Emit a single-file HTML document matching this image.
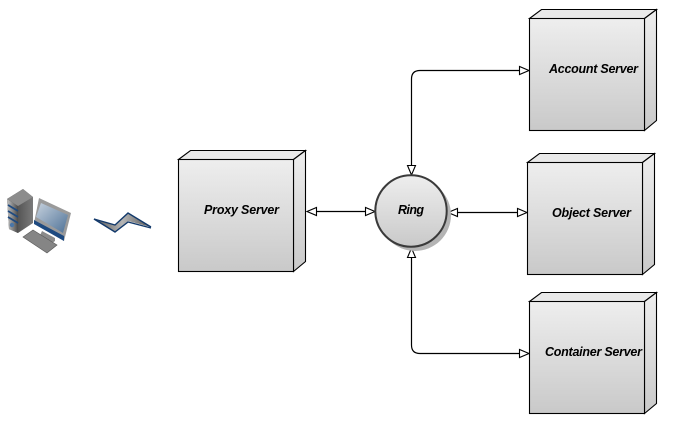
<!DOCTYPE html>
<html><head><meta charset="utf-8">
<style>
html,body{margin:0;padding:0;background:#fff;width:677px;height:434px;overflow:hidden}
svg{display:block}
text{font-family:"Liberation Sans",sans-serif;font-weight:bold;font-style:italic;font-size:12.5px;fill:#000}
</style></head>
<body>
<svg width="677" height="434" viewBox="0 0 677 434" xmlns="http://www.w3.org/2000/svg">
<defs>
<linearGradient id="g" x1="0" y1="0" x2="0" y2="1"><stop offset="0" stop-color="#eeeeee"/><stop offset="1" stop-color="#c9c9c9"/></linearGradient>
<linearGradient id="t" x1="0" y1="0" x2="1" y2="0"><stop offset="0" stop-color="#c4c4c4"/><stop offset="1" stop-color="#4a4a4a"/></linearGradient>
<linearGradient id="tw" x1="0" y1="0" x2="1" y2="0"><stop offset="0" stop-color="#3a3a3a"/><stop offset="1" stop-color="#7a7a7a"/></linearGradient>
<linearGradient id="sc" x1="0" y1="0" x2="1" y2="1"><stop offset="0" stop-color="#c6d1dd"/><stop offset="1" stop-color="#4f7297"/></linearGradient>
<linearGradient id="z" x1="0" y1="0" x2="1" y2="0"><stop offset="0" stop-color="#555"/><stop offset=".5" stop-color="#b5b5b5"/><stop offset="1" stop-color="#555"/></linearGradient>
</defs>

<!-- client computer -->
<g>
<path d="M7 199L23 189L33 197L33 223L18 233L9 229Z" fill="url(#tw)"/>
<path d="M7 199L18 206L18 233L9 229Z" fill="url(#t)"/>
<path d="M7 199L23 189L33 197L18 206Z" fill="#8c8c8c"/>
<path d="M8 205L18 211M8 211L18 217M8 217L18 223" stroke="#1e4a80" stroke-width="1.8" fill="none"/>
<circle cx="12" cy="225" r="2.2" fill="#4a76a8"/>
<path d="M42 231L55 238L55 241L48 246L38 240Z" fill="#8a8a8a"/>
<path d="M34 223L39 198L71 213L64 241Z" fill="#9a9a9a"/>
<path d="M36 217L41 203L68 215L63 233Z" fill="url(#sc)"/>
<path d="M34 220L64 236L64 241L34 224Z" fill="#1e4a80"/>
<path d="M23 237L33 230L57 245L47 253Z" fill="#858585" stroke="#5c5c5c" stroke-width=".7"/>
</g>
<!-- lightning -->
<path d="M94 219L115 225L128 213L151 227L128 221L115 232Z" fill="url(#z)"/>
<path d="M94 219L115 225L128 213L151 227" fill="none" stroke="#12396b" stroke-width="1.4"/>
<path d="M94 219L115 232L128 222L151 228" fill="none" stroke="#12396b" stroke-width="1.4"/>

<!-- connectors -->
<g fill="none" stroke="#000" stroke-width="1.2">
<path d="M316 211.5H365"/>
<path d="M457 212.5H518"/>
<path d="M411.5 166V79Q411.5 70.5 420 70.5H519"/>
<path d="M411.5 257V345Q411.5 353.5 420 353.5H519"/>
</g>
<g fill="#fff" stroke="#000" stroke-width="1.1" stroke-linejoin="miter">
<path d="M307 211.5L316.5 207.5V215.5Z"/>
<path d="M375 211.5L365.5 207.5V215.5Z"/>
<path d="M448 212.5L457.5 208.5V216.5Z"/>
<path d="M527 212.5L517.5 208.5V216.5Z"/>
<path d="M529 70.5L519.5 66.5V74.5Z"/>
<path d="M529 353.5L519.5 349.5V357.5Z"/>
<path d="M411.5 175L407.5 165.5H415.5Z"/>
<path d="M411.5 248L407.5 257.5H415.5Z"/>
</g>

<!-- proxy -->
<g stroke="#000" stroke-width="1.1" stroke-linejoin="miter">
<path d="M178.5 159.5L190.5 150.5H305.5L293.5 159.5Z" fill="#e9e9e9"/>
<path d="M293.5 159.5L305.5 150.5V261.5L293.5 271.5Z" fill="url(#g)"/>
<rect x="178.5" y="159.5" width="115" height="112" fill="url(#g)"/>
</g>
<!-- account -->
<g stroke="#000" stroke-width="1.1" stroke-linejoin="miter">
<path d="M529.5 18.5L541.5 9.5H656.5L644.5 18.5Z" fill="#e9e9e9"/>
<path d="M644.5 18.5L656.5 9.5V120.5L644.5 130.5Z" fill="url(#g)"/>
<rect x="529.5" y="18.5" width="115" height="112" fill="url(#g)"/>
</g>
<!-- object -->
<g stroke="#000" stroke-width="1.1" stroke-linejoin="miter">
<path d="M527.5 162.5L539.5 153.5H654.5L642.5 162.5Z" fill="#e9e9e9"/>
<path d="M642.5 162.5L654.5 153.5V264.5L642.5 274.5Z" fill="url(#g)"/>
<rect x="527.5" y="162.5" width="115" height="112" fill="url(#g)"/>
</g>
<!-- container -->
<g stroke="#000" stroke-width="1.1" stroke-linejoin="miter">
<path d="M529.5 301.5L541.5 292.5H656.5L644.5 301.5Z" fill="#e9e9e9"/>
<path d="M644.5 301.5L656.5 292.5V403.5L644.5 413.5Z" fill="url(#g)"/>
<rect x="529.5" y="301.5" width="115" height="112" fill="url(#g)"/>
</g>

<!-- ring -->
<circle cx="415" cy="215" r="36" fill="#b4b4b4"/>
<circle cx="411" cy="211" r="35.7" fill="url(#g)" stroke="#3a3a3a" stroke-width="2"/>

<!-- labels -->
<text x="204" y="214" textLength="75" lengthAdjust="spacing">Proxy Server</text>
<text x="398" y="214" textLength="26" lengthAdjust="spacing">Ring</text>
<text x="549" y="73" textLength="89" lengthAdjust="spacing">Account Server</text>
<text x="552" y="217" textLength="79" lengthAdjust="spacing">Object Server</text>
<text x="545" y="356" textLength="97" lengthAdjust="spacing">Container Server</text>
</svg>
</body></html>
